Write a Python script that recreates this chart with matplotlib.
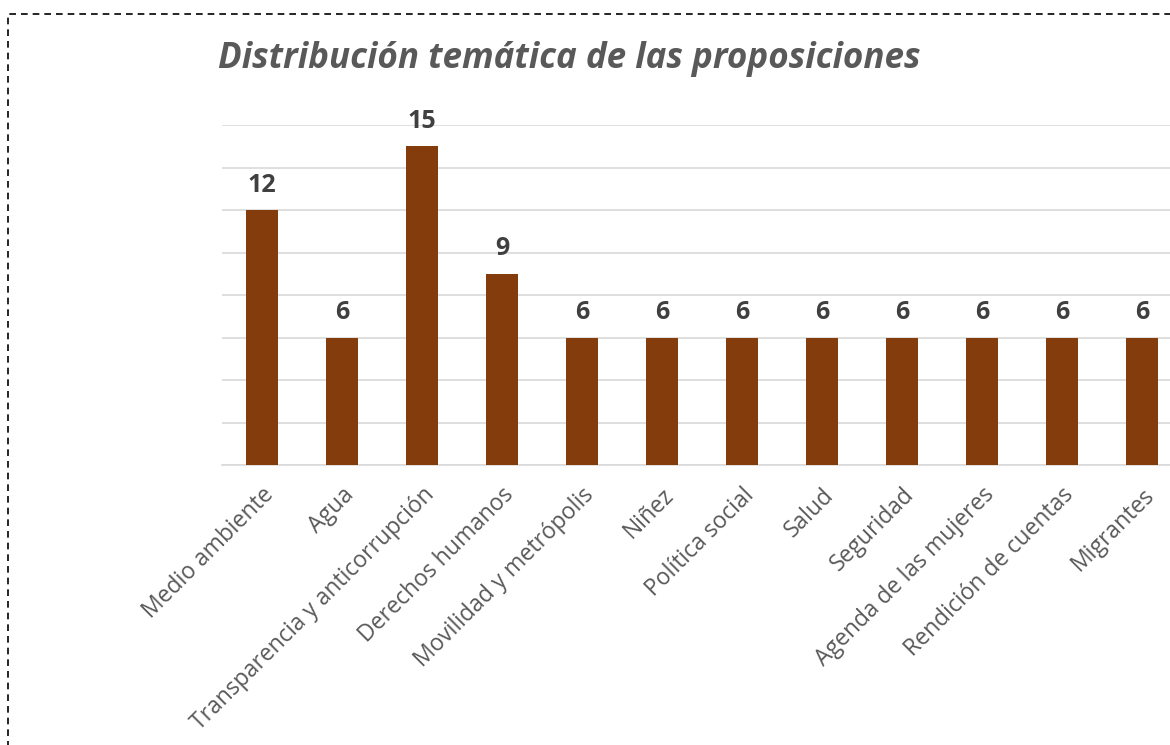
import matplotlib.pyplot as plt
from matplotlib.patches import Rectangle

temas = ["Medio ambiente", "Agua", "Transparencia y anticorrupción",
         "Derechos humanos", "Movilidad y metrópolis", "Niñez",
         "Política social", "Salud", "Seguridad", "Agenda de las mujeres",
         "Rendición de cuentas", "Migrantes"]
proposiciones = [12, 6, 15, 9, 6, 6, 6, 6, 6, 6, 6, 6]

plt.rcParams["font.family"] = ["Open Sans", "DejaVu Sans"]

W, H = 1170, 745
fig = plt.figure(figsize=(W / 100, H / 100), dpi=100)
ax = fig.add_axes([222 / W, (H - 465) / H, (1170 - 222) / W, (465 - 125) / H])

x = range(len(temas))
bars = ax.bar(x, proposiciones, width=0.4, color="#843C0C", zorder=3)
ax.bar_label(bars, padding=9, fontsize=18, fontweight="bold", color="#404040")

ax.set_ylim(0, 16)
ax.set_xlim(-0.5, 11.35)
ax.set_yticks(range(0, 17, 2))
ax.yaxis.grid(True, color="#d9d9d9", linewidth=1.2, zorder=0)
ax.tick_params(axis="y", length=0, labelleft=False)
ax.tick_params(axis="x", length=0, pad=13)
for s in ["top", "right", "left"]:
    ax.spines[s].set_visible(False)
ax.spines["bottom"].set_color("#d9d9d9")
ax.spines["bottom"].set_linewidth(1.2)

ax.set_xticks(list(x))
ax.set_xticklabels(temas, rotation=45, ha="right", rotation_mode="anchor",
                   fontsize=16.5, color="#595959")

fig.text(569 / W, 1 - 59 / H, "Distribución temática de las proposiciones",
         ha="center", va="center", fontsize=25.2, fontweight="bold",
         fontstyle="italic", color="#595959")

# dashed frame around the chart area
frame = Rectangle((8 / W, -0.1), 1.1, 1 - 14 / H + 0.1, transform=fig.transFigure,
                  fill=False, edgecolor="black", linestyle=(0, (4, 3)), linewidth=1.2)
fig.patches.append(frame)

fig.savefig("out.png", dpi=100)
